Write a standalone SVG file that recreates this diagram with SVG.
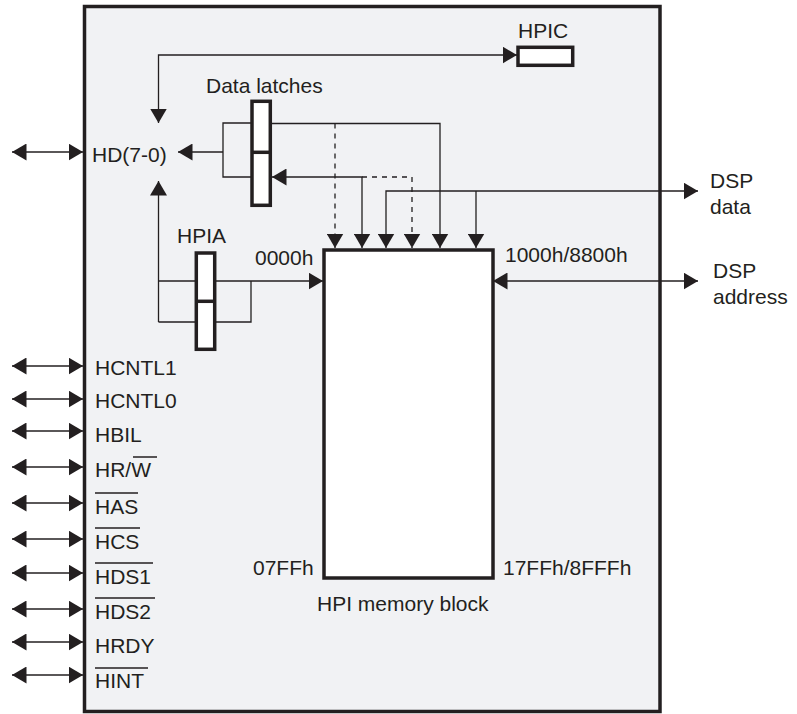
<svg xmlns="http://www.w3.org/2000/svg" width="797" height="714" viewBox="0 0 797 714">
<style>
text{font-family:"Liberation Sans",Arial,sans-serif;font-size:21px;fill:#231f20}
.frame{fill:#f1f2f4;stroke:#231f20;stroke-width:3.5}
.box{fill:#fff;stroke:#231f20;stroke-width:3.5}
.ln{fill:none;stroke:#231f20;stroke-width:1.3}
.dash{stroke-dasharray:5,5}
.ov{stroke:#231f20;stroke-width:1.5}
</style>
<defs>
<marker id="ah" markerUnits="userSpaceOnUse" markerWidth="15" markerHeight="17" refX="14.5" refY="8.5" orient="auto-start-reverse" viewBox="0 0 15 17">
<path d="M0,0 L14.5,8.5 L0,17 z" fill="#231f20"/>
</marker>
</defs>
<rect class="frame" x="84.5" y="6.5" width="575.5" height="705"/>
<g id="connectors">
<path class="ln" d="M158.5,123 V55 H517" marker-start="url(#ah)" marker-end="url(#ah)"/>
<path class="ln" d="M12,152 H83" marker-start="url(#ah)" marker-end="url(#ah)"/>
<path class="ln" d="M223,152 H178" marker-end="url(#ah)"/>
<path class="ln" d="M252,123 H223 V177 H252"/>
<path class="ln" d="M272,123.5 H440 V248" marker-end="url(#ah)"/>
<path class="ln dash" d="M335,123.5 V248" marker-end="url(#ah)"/>
<path class="ln" d="M272,177 H362 V248" marker-start="url(#ah)" marker-end="url(#ah)"/>
<path class="ln dash" d="M362,177 H412 V248" marker-end="url(#ah)"/>
<path class="ln" d="M386,248 V191 H698" marker-start="url(#ah)" marker-end="url(#ah)"/>
<path class="ln" d="M476,191 V248" marker-end="url(#ah)"/>
<path class="ln" d="M493,281 H698" marker-start="url(#ah)" marker-end="url(#ah)"/>
<path class="ln" d="M158.5,322 V181" marker-end="url(#ah)"/>
<path class="ln" d="M158.5,281 H323" marker-end="url(#ah)"/>
<path class="ln" d="M158.5,322 H251 V281"/>
<path class="ln" d="M12,366 H83" marker-start="url(#ah)" marker-end="url(#ah)"/>
<path class="ln" d="M12,399 H83" marker-start="url(#ah)" marker-end="url(#ah)"/>
<path class="ln" d="M12,431 H83" marker-start="url(#ah)" marker-end="url(#ah)"/>
<path class="ln" d="M12,467 H83" marker-start="url(#ah)" marker-end="url(#ah)"/>
<path class="ln" d="M12,503 H83" marker-start="url(#ah)" marker-end="url(#ah)"/>
<path class="ln" d="M12,539 H83" marker-start="url(#ah)" marker-end="url(#ah)"/>
<path class="ln" d="M12,573 H83" marker-start="url(#ah)" marker-end="url(#ah)"/>
<path class="ln" d="M12,609 H83" marker-start="url(#ah)" marker-end="url(#ah)"/>
<path class="ln" d="M12,642 H83" marker-start="url(#ah)" marker-end="url(#ah)"/>
<path class="ln" d="M12,675 H83" marker-start="url(#ah)" marker-end="url(#ah)"/>
</g>
<g id="hpic">
<rect class="box" x="518" y="47.3" width="54.7" height="18"/>
<text x="518" y="38">HPIC</text>
</g>
<g id="data-latches">
<rect class="box" x="252" y="101.3" width="18.3" height="104"/>
<line class="box" x1="252" y1="152.3" x2="270.3" y2="152.3"/>
<text x="206" y="93">Data latches</text>
</g>
<g id="hpia">
<rect class="box" x="196.3" y="253" width="18.4" height="96.3"/>
<line class="box" x1="196.3" y1="301.3" x2="214.7" y2="301.3"/>
<text x="177" y="243">HPIA</text>
</g>
<g id="memory">
<rect class="box" x="324" y="250" width="169" height="328"/>
<text x="255" y="265">0000h</text>
<text x="505" y="262">1000h/8800h</text>
<text x="253" y="575">07FFh</text>
<text x="503" y="575">17FFh/8FFFh</text>
<text x="317" y="611">HPI memory block</text>
</g>
<g id="dsp-data">
<text x="710" y="188">DSP</text>
<text x="710" y="214">data</text>
</g>
<g id="dsp-address">
<text x="713" y="278">DSP</text>
<text x="713" y="304">address</text>
</g>
<g id="hd">
<text x="92" y="162">HD(7-0)</text>
</g>
<g id="signals">
<text x="95" y="375">HCNTL1</text>
<text x="95" y="408">HCNTL0</text>
<text x="95" y="442">HBIL</text>
<text x="95" y="477">HR/W</text>
<line class="ov" x1="133" y1="457" x2="157" y2="457"/>
<text x="95" y="514">HAS</text>
<line class="ov" x1="95" y1="493" x2="138" y2="493"/>
<text x="95" y="549">HCS</text>
<line class="ov" x1="95" y1="528" x2="140" y2="528"/>
<text x="95" y="584">HDS1</text>
<line class="ov" x1="95" y1="563" x2="153" y2="563"/>
<text x="95" y="619">HDS2</text>
<line class="ov" x1="95" y1="598" x2="155" y2="598"/>
<text x="95" y="653">HRDY</text>
<text x="95" y="688">HINT</text>
<line class="ov" x1="95" y1="668" x2="148" y2="668"/>
</g>
</svg>
